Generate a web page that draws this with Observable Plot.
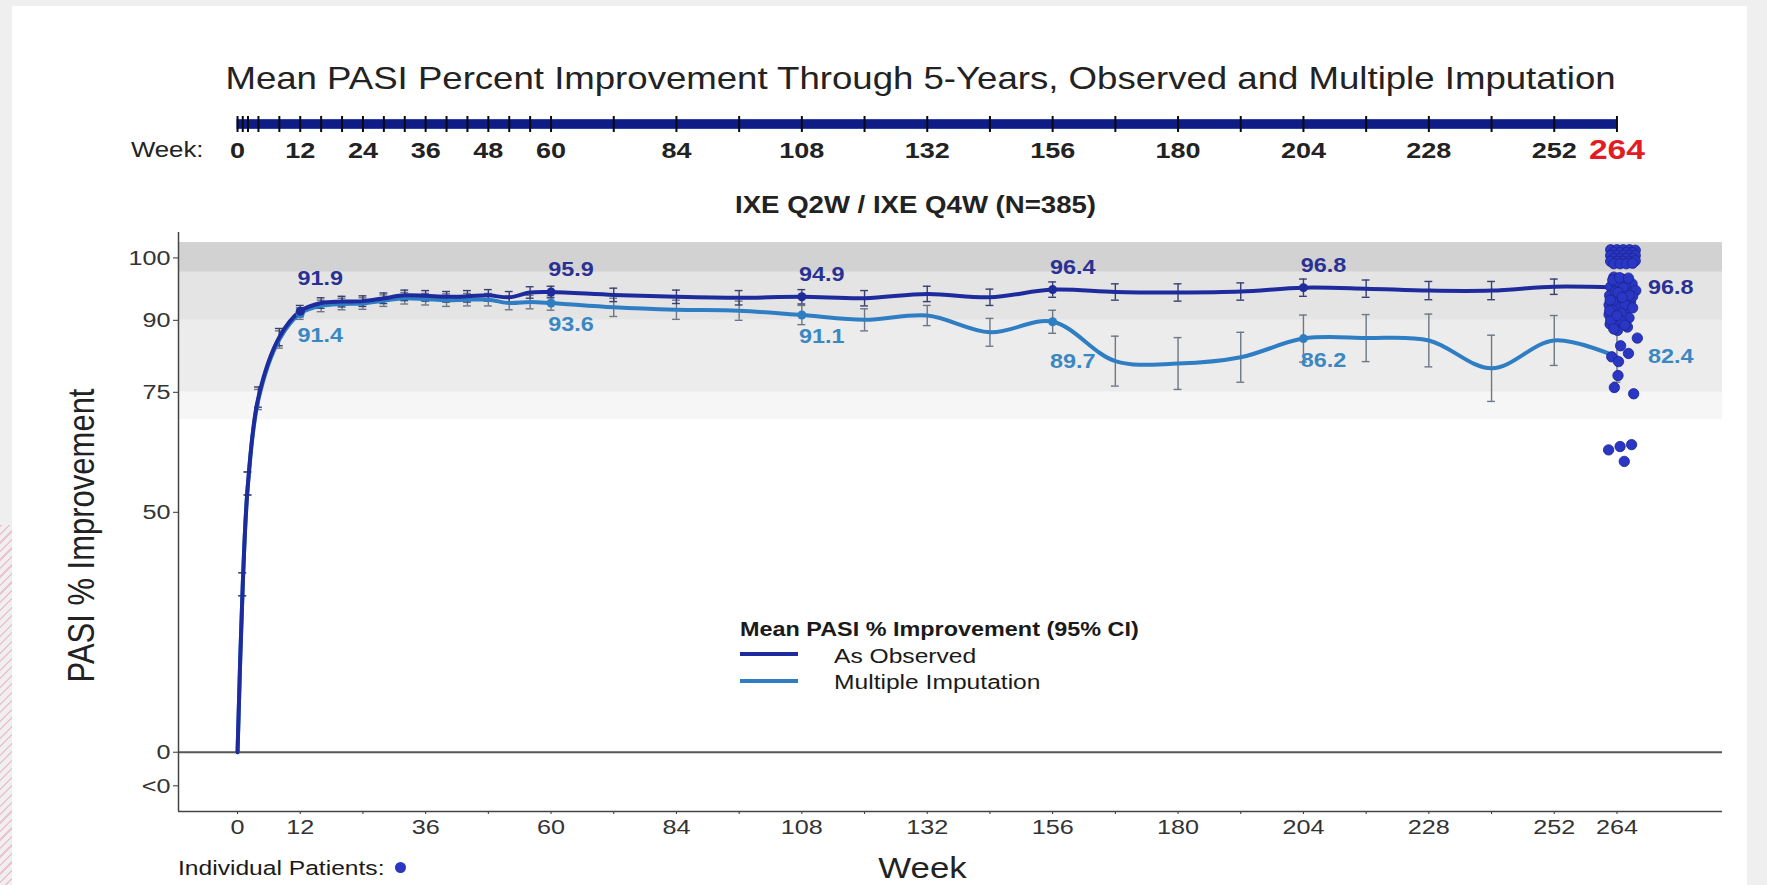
<!DOCTYPE html>
<html>
<head>
<meta charset="utf-8">
<script src="https://cdn.jsdelivr.net/npm/d3@7"></script>
<script src="https://cdn.jsdelivr.net/npm/@observablehq/plot@0.6"></script>
<style>
  html, body { margin: 0; padding: 0; background: #efefef; }
  #page { position: relative; width: 1767px; height: 885px; overflow: hidden; background: #efefef;
          font-family: "Liberation Sans", Arial, Helvetica, sans-serif; color: #1a1a1a; }
  #panel { position: absolute; left: 12px; top: 6px; width: 1735px; height: 879px; background: #fff; }
  #hatch { position: absolute; left: 0; top: 525px; width: 12px; height: 360px;
           background: repeating-linear-gradient(135deg, rgba(232,150,175,0.5) 0 1.5px, transparent 1.5px 6px); }
  #top, #main { position: absolute; left: 0; }
  #top { top: 0; }
  #main { top: 215px; }
  #top svg, #main svg { overflow: visible; }
  .wide { position: absolute; display: inline-block; white-space: nowrap; transform: scaleX(1.2);
          transform-origin: left center; line-height: 24px; }
  .swatch { position: absolute; width: 58px; height: 4px; }
</style>
</head>
<body>
<div id="page">
  <div id="panel"></div>
  <div id="hatch"></div>
  <div id="main"></div>
  <div id="top"></div>

  <span class="wide" style="left:740px; top:617px; font-size:19.5px; font-weight:bold;">Mean PASI % Improvement (95% CI)</span>
  <div class="swatch" id="sw-obs" style="left:740px; top:652px;"></div>
  <span class="wide" style="left:834px; top:644px; font-size:20.5px;">As Observed</span>
  <div class="swatch" id="sw-mi" style="left:740px; top:679px;"></div>
  <span class="wide" style="left:834px; top:670px; font-size:20.5px;">Multiple Imputation</span>

  <span class="wide" style="left:178px; top:856px; font-size:20.5px;">Individual Patients:</span>
  <div id="key-dot" style="position:absolute; left:395px; top:862px; width:11px; height:11px; border-radius:50%;"></div>
</div>

<script>
// ---- Visit schedule and summary statistics (IXE Q2W / IXE Q4W, N=385) ----
const weeks = [0, 1, 2, 4, 8, 12, 16, 20, 24, 28, 32, 36, 40, 44, 48, 52, 56, 60,
               72, 84, 96, 108, 120, 132, 144, 156, 168, 180, 192, 204, 216, 228, 240, 252, 264];

// Mean PASI % improvement, as observed
const observed = [0, 35, 56, 74, 86.5, 91.9, 93.6, 93.9, 94.0, 94.6, 95.2, 95.1, 94.9, 95.0, 95.2, 94.8, 95.8, 95.9,
                  95.3, 94.9, 94.7, 94.9, 94.6, 95.5, 94.8, 96.4, 95.9, 95.8, 96.0, 96.8, 96.6, 96.2, 96.2, 97.0, 96.8];
// Half-width of the 95% CI, as observed
const observedHalfCI = [0, 2.4, 2.4, 2.1, 1.8, 1.2, 1.1, 1.1, 1.1, 1.1, 1.1, 1.1, 1.1, 1.2, 1.2, 1.2, 1.2, 1.2,
                        1.4, 1.4, 1.5, 1.5, 1.6, 1.6, 1.7, 1.6, 1.7, 1.8, 1.8, 1.8, 1.8, 1.9, 1.9, 1.6, 1.7];

// Mean PASI % improvement, multiple imputation
const imputed = [0, 35, 56, 73.5, 86, 91.4, 93.0, 93.4, 93.5, 94.1, 94.6, 94.4, 94.2, 94.3, 94.3, 93.6, 93.8, 93.6,
                 92.7, 92.2, 92.0, 91.1, 90.1, 91.0, 87.5, 89.7, 81.5, 81.0, 82.3, 86.2, 86.3, 85.8, 80.0, 85.8, 82.4];
// Half-width of the 95% CI, multiple imputation
const imputedHalfCI = [0, 2.4, 2.4, 2.1, 1.8, 1.2, 1.2, 1.2, 1.2, 1.2, 1.2, 1.2, 1.3, 1.3, 1.3, 1.4, 1.4, 1.5,
                       1.9, 2.0, 2.0, 2.0, 2.3, 2.1, 2.9, 2.4, 5.2, 5.4, 5.2, 4.9, 4.9, 5.5, 6.9, 5.2, 5.3];

// Weeks whose means are annotated
const labelWeeks = [12, 60, 108, 156, 204];
const finalWeek = 264;

// Individual patients at week 264 (horizontal jitter in weeks, plotted PASI % improvement;
// patients at 100% are spread across the top band)
const patientJitter = [
  -1.2, 0.0, 1.2, 2.4, 3.5, -0.6, 0.6, 1.8, 3.0, -1.2, 0.0, 1.2, 2.4, 3.5, -0.6, 0.6, 1.8, 3.0,
  -1.2, 0.0, 1.2, 2.4, 3.5, -0.6, 0.6, 1.8, 3.0,
  -0.6, 1.0, 2.9, 3.6, -1.2, 0.2, 2.0, -1.4, 0.7, 2.6, -1.5, -0.1, 1.6, -1.5, -0.5, 2.3, -1.3, 0.4, 2.0, 0.1,
  -0.2, 1.6, -0.8, 1.5, 0.8, -1.2, 1.0, 3.0,
  -0.8, 0.5, 2.2, -0.3, 1.2, 3.0, -1.3, 0.2, 2.4, -0.9, 1.0, -1.4, 0.0, 1.5, -0.6,
  3.9, 0.7, 2.2, -1.0, 0.3, 0.2, -0.5, 3.2,
  -1.6, 0.6, 2.8, 1.4
];
const patientPasi = [
  104.7, 104.7, 104.7, 104.7, 104.6, 104.1, 104.1, 104.1, 104.1, 103.5, 103.5, 103.5, 103.5, 103.5,
  102.9, 102.9, 102.9, 102.9, 102.3, 102.3, 102.3, 102.3, 102.4, 101.8, 101.8, 101.8, 101.9,
  99.0, 98.6, 97.6, 96.2, 97.0, 96.5, 95.5, 95.2, 94.6, 93.9, 93.2, 92.9, 91.9, 91.2, 90.9, 90.5, 89.2, 88.9, 88.6, 87.9,
  97.8, 97.2, 94.0, 93.3, 91.5, 90.0, 89.8, 92.6,
  98.4, 98.9, 98.8, 96.0, 96.8, 95.0, 94.2, 95.8, 95.2, 92.2, 94.8, 92.0, 91.0, 89.0, 88.2,
  86.3, 84.7, 83.1, 82.4, 81.4, 78.5, 76.0, 74.7,
  63.0, 63.7, 64.1, 60.6
];

// Axis ticks and labels
const timelineWeeks = [0, 1, 2, 4, 8, 12, 16, 20, 24, 28, 32, 36, 40, 44, 48, 52, 56, 60,
                       72, 84, 96, 108, 120, 132, 144, 156, 168, 180, 192, 204, 216, 228, 240, 252, 264];
const timelineLabels = [0, 12, 24, 36, 48, 60, 84, 108, 132, 156, 180, 204, 228, 252];
const xTickWeeks = [0, 12, 24, 36, 48, 60, 72, 84, 96, 108, 120, 132, 144, 156, 168, 180, 192, 204, 216, 228, 240, 252, 264];
const xTickLabels = [0, 12, 36, 60, 84, 108, 132, 156, 180, 204, 228, 252, 264];
const yTickValues = [-7, 0, 50, 75, 90, 103];
const yTickLabels = ["<0", "0", "50", "75", "90", "100"];

// Shaded response bands (PASI 100 / 90 / 75 regions)
const bandLower = [100, 90, 75, 69.3];
const bandUpper = [106.2, 100, 90, 75];

// ---- Styling ----
const FONT = "'Liberation Sans', Arial, Helvetica, sans-serif";
const OBS = "#1e2b9c";
const MI = "#2f7ec4";
const OBS_LABEL = "#2a3193";
const MI_LABEL = "#3b87c2";
const NAVY = "#0f1c86";
const DOT = "#2a36c4";
const BAND_FILLS = ["#d2d2d2", "#e4e4e4", "#ececec", "#f6f6f6"];
const STRETCH = 1.2;

const xDomain = [-11.3, 284.2];
const yDomain = [-12.35, 108.3];

document.getElementById("sw-obs").style.background = OBS;
document.getElementById("sw-mi").style.background = MI;
document.getElementById("key-dot").style.background = DOT;

const rows = (means, half) => weeks.map((w, i) => ({week: w, mean: means[i], lo: means[i] - half[i], hi: means[i] + half[i]}));
const obsRows = rows(observed, observedHalfCI);
const miRows = rows(imputed, imputedHalfCI);
const withCI = r => r.week > 0;
const bands = bandLower.map((lo, i) => ({lo, hi: bandUpper[i], i}));
const patients = patientPasi.map((v, i) => ({week: finalWeek + patientJitter[i], pasi: v}));
const yLabel = new Map(yTickValues.map((v, i) => [v, yTickLabels[i]]));
const xLabelled = new Set(xTickLabels);

// Labels sit just above (observed) or below (imputed) the annotated means
const obsLabelDy = {12: -32};
const miLabelDy = {156: 40};

function errorBars(data, stroke) {
  const d = data.filter(withCI);
  return [
    Plot.ruleX(d, {x: "week", y1: "lo", y2: "hi", stroke, strokeWidth: 1.4}),
    Plot.ruleY(d, {y: "lo", x1: r => r.week - 0.75, x2: r => r.week + 0.75, stroke, strokeWidth: 1.4}),
    Plot.ruleY(d, {y: "hi", x1: r => r.week - 0.75, x2: r => r.week + 0.75, stroke, strokeWidth: 1.4})
  ];
}

function labels(data, fill, dyMap, dyDefault) {
  return labelWeeks.map(w => {
    const r = data.find(d => d.week === w);
    return Plot.text([r], {
      x: "week", y: "mean", text: d => d.mean.toFixed(1),
      dx: 20, dy: dyMap[w] ?? dyDefault,
      fill, fontSize: 19.5, fontWeight: "bold"
    });
  });
}

// Widen every text element around its anchor (rotated text widens across its height)
function widenText(svg, s) {
  svg.querySelectorAll("text").forEach(t => {
    const tr = t.getAttribute("transform") || "";
    if (/rotate\(\s*-?90/.test(tr)) {
      t.setAttribute("transform", `${tr} scale(1,${s})`);
    } else {
      const x = parseFloat(t.getAttribute("x")) || 0;
      t.setAttribute("transform", `${tr} translate(${x},0) scale(${s},1) translate(${-x},0)`);
    }
  });
}

// ---- Visit timeline with title and subtitle ----
const timeline = Plot.plot({
  width: 1767, height: 230,
  marginLeft: 178, marginRight: 45, marginTop: 119.5, marginBottom: 101.5,
  x: {domain: xDomain, axis: null},
  style: {background: "transparent", fontFamily: FONT, overflow: "visible"},
  marks: [
    Plot.text(["Mean PASI Percent Improvement Through 5-Years, Observed and Multiple Imputation"],
      {frameAnchor: "top", lineAnchor: "middle", textAnchor: "middle", dx: -30, dy: -40.5, fontSize: 30.5, fill: "#222"}),
    Plot.barX([{start: d3.min(timelineWeeks), end: d3.max(timelineWeeks)}], {x1: "start", x2: "end", fill: NAVY, stroke: "#2c44b0", strokeWidth: 1}),
    Plot.ruleX(timelineWeeks, {stroke: "#0a0a0a", strokeWidth: 2, insetTop: -3.5, insetBottom: -3.5}),
    Plot.text(["Week:"], {frameAnchor: "bottom-left", lineAnchor: "middle", dx: 25, dy: 21.5, textAnchor: "end", fontSize: 21.5, fill: "#222"}),
    Plot.text(timelineLabels, {x: d => d, text: d => String(d), frameAnchor: "bottom", lineAnchor: "middle", dy: 21.5,
      fontSize: 22.5, fontWeight: "bold", fill: "#222"}),
    Plot.text([finalWeek], {x: d => d, text: d => String(d), frameAnchor: "bottom", lineAnchor: "middle", dy: 21.5,
      fontSize: 28, fontWeight: "bold", fill: "#e31b23"}),
    Plot.text(["IXE Q2W / IXE Q4W (N=385)"],
      {frameAnchor: "bottom", lineAnchor: "middle", textAnchor: "middle", dx: -35, dy: 76.5, fontSize: 23, fontWeight: "bold", fill: "#222"})
  ]
});

// ---- Main chart ----
const main = Plot.plot({
  width: 1767, height: 670,
  marginLeft: 178, marginRight: 45, marginTop: 17, marginBottom: 74,
  x: {domain: xDomain, ticks: xTickWeeks, tickFormat: d => xLabelled.has(d) ? String(d) : "",
      tickSize: 3, tickPadding: 5, label: null},
  y: {domain: yDomain, ticks: yTickValues, tickFormat: d => yLabel.get(d), tickSize: 5, tickPadding: 3, label: null},
  style: {background: "transparent", fontFamily: FONT, fontSize: "21px", color: "#333", overflow: "visible"},
  marks: [
    Plot.rect(bands, {y1: "lo", y2: "hi", fill: d => BAND_FILLS[d.i]}),
    Plot.ruleY([0], {stroke: "#555", strokeWidth: 2}),
    Plot.ruleX([xDomain[0]], {stroke: "#444", strokeWidth: 1.5}),
    Plot.ruleY([yDomain[0]], {stroke: "#444", strokeWidth: 1.5}),

    ...errorBars(miRows, "#6f7784"),
    ...errorBars(obsRows, "#3a3f6e"),
    Plot.line(miRows, {x: "week", y: "mean", curve: "catmull-rom", stroke: MI, strokeWidth: 4}),
    Plot.line(obsRows, {x: "week", y: "mean", curve: "catmull-rom", stroke: OBS, strokeWidth: 4}),
    Plot.dot(miRows.filter(d => labelWeeks.includes(d.week)), {x: "week", y: "mean", r: 4.5, fill: MI}),
    Plot.dot(obsRows.filter(d => labelWeeks.includes(d.week)), {x: "week", y: "mean", r: 4.5, fill: OBS}),

    Plot.dot(patients, {x: "week", y: "pasi", r: 5.2, fill: DOT, stroke: "#1b2590", strokeWidth: 0.8}),

    ...labels(obsRows, OBS_LABEL, obsLabelDy, -22),
    ...labels(miRows, MI_LABEL, miLabelDy, 22),
    Plot.text(obsRows.filter(d => d.week === finalWeek), {x: "week", y: "mean", text: d => d.mean.toFixed(1),
      dx: 31, textAnchor: "start", fill: OBS_LABEL, fontSize: 19.5, fontWeight: "bold"}),
    Plot.text(miRows.filter(d => d.week === finalWeek), {x: "week", y: "mean", text: d => d.mean.toFixed(1),
      dx: 31, textAnchor: "start", fill: MI_LABEL, fontSize: 19.5, fontWeight: "bold"}),

    Plot.text(["Week"], {frameAnchor: "bottom", lineAnchor: "middle", textAnchor: "middle", dx: -28, dy: 57, fontSize: 29, fill: "#222"}),
    Plot.text(["PASI % Improvement"], {frameAnchor: "left", lineAnchor: "middle", textAnchor: "middle", rotate: -90,
      dx: -96, dy: 13.5, fontSize: 31, fill: "#222"})
  ]
});

widenText(timeline, STRETCH);
widenText(main, STRETCH);
document.getElementById("top").appendChild(timeline);
document.getElementById("main").appendChild(main);
</script>
</body>
</html>
